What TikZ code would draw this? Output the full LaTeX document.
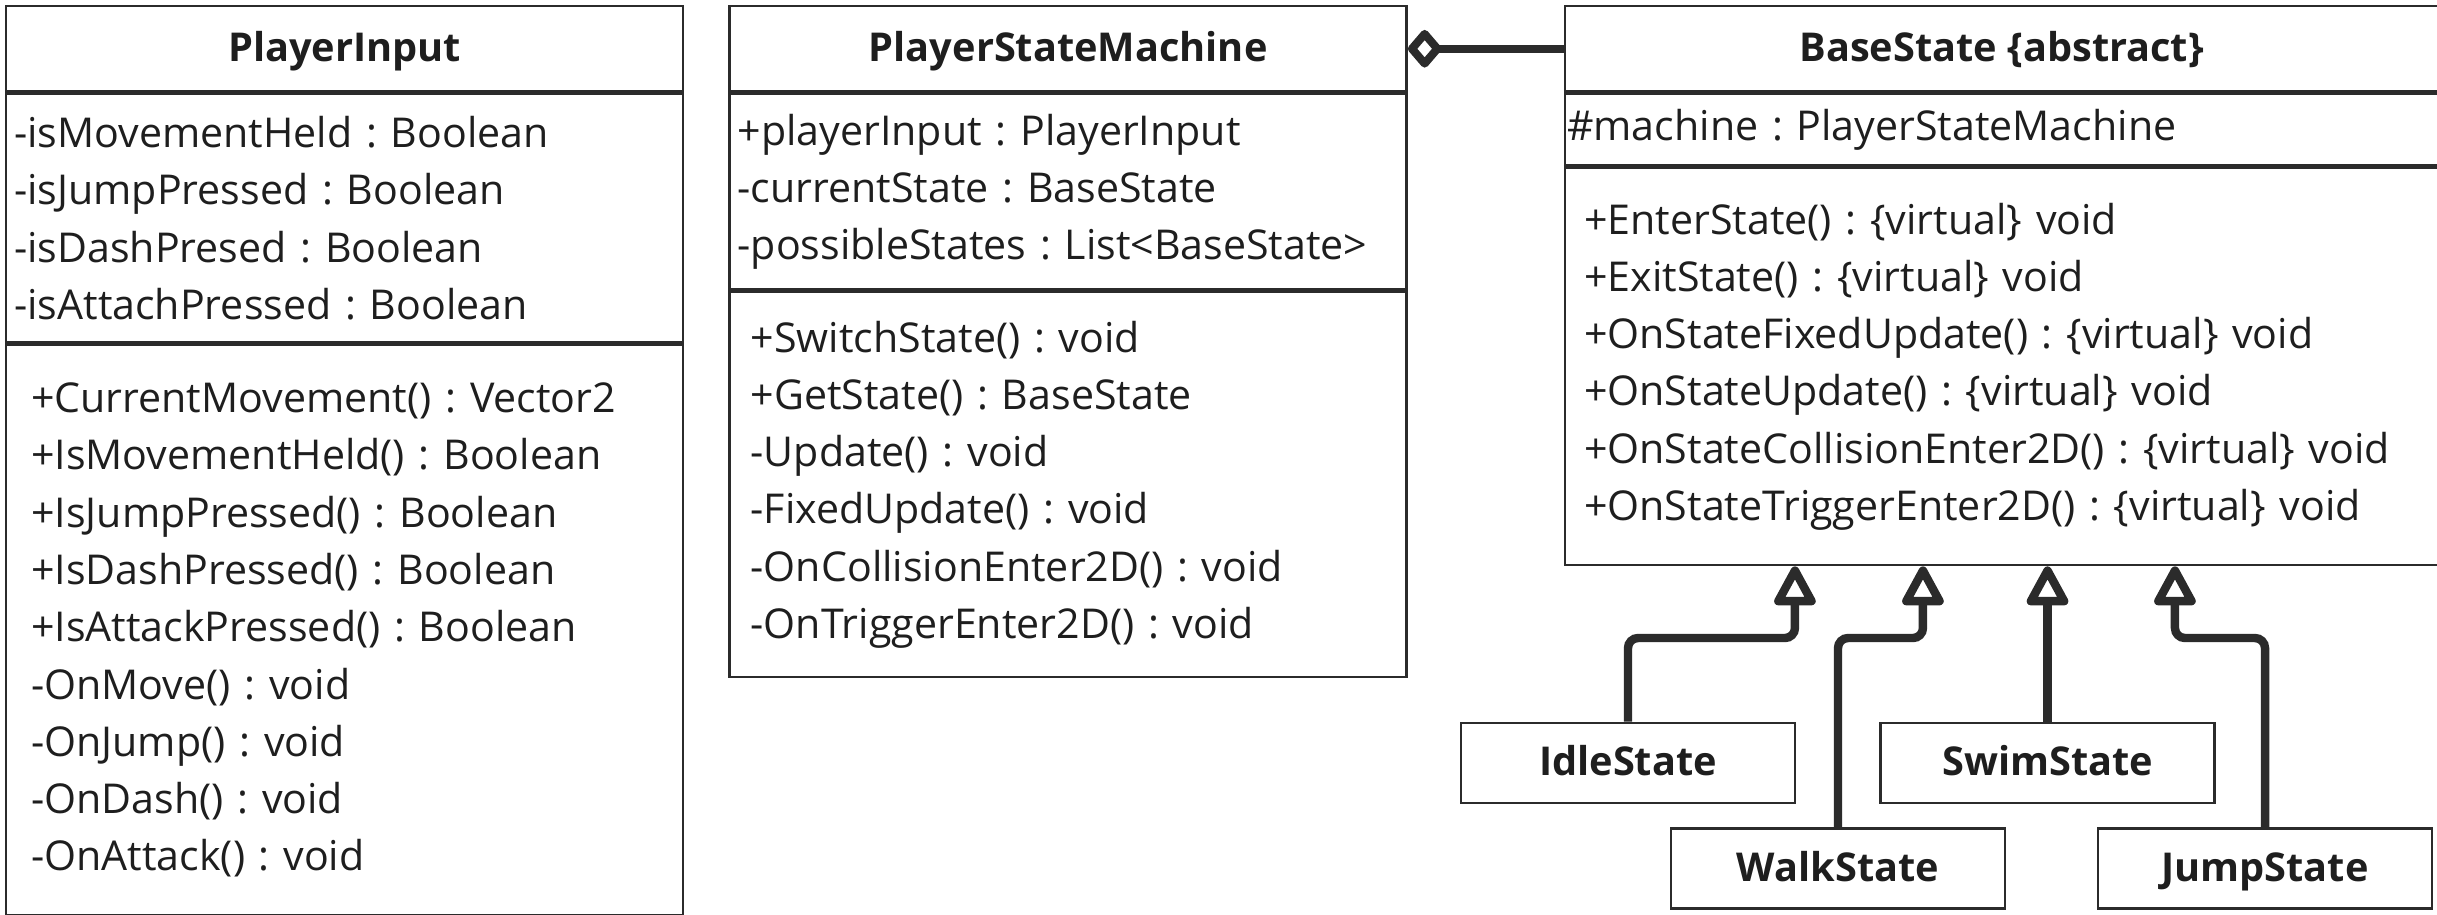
\documentclass[tikz,border=0pt]{standalone}
\usepackage{fontspec}
\setmainfont{Open Sans}
\frenchspacing
\usetikzlibrary{arrows.meta,positioning,calc}
\definecolor{umlline}{HTML}{2B2B2B}
\definecolor{umltext}{HTML}{1E1E1E}

\begin{document}
\begin{tikzpicture}[
  node distance=0pt,
  every node/.style={text=umltext},
  head/.style={draw=umlline, line width=0.7pt, minimum width=#1, minimum height=8.5mm, inner sep=0pt, text height=0.72em, text depth=0pt, font=\bfseries\fontsize{11.3}{13}\selectfont},
  members/.style={draw=umlline, line width=0.7pt, text width=#1, align=left, inner ysep=0pt, font=\fontsize{11.7}{16.3}\selectfont},
  sep/.style={draw=umlline, line width=1.3pt},
  sub/.style={draw=umlline, line width=0.8pt, minimum width=33.4mm, minimum height=8mm, inner sep=0pt, text height=0.72em, text depth=0pt, font=\bfseries\fontsize{11.3}{13}\selectfont},
  inherit/.style={-{Triangle[open, round, length=4.4mm, width=4.5mm]}, draw=umlline, line width=2.4pt},
  agg/.style={{Diamond[open, round, length=3.6mm, width=4.2mm]}-, draw=umlline, line width=2.3pt},
]
  \useasboundingbox (0,0) rectangle (24.37,-9.14);

  % PlayerInput
  \node[head=6.77cm, anchor=north west] (pihead) at (0.05,-0.05) {PlayerInput};
  \node[members=6.61cm, inner xsep=0.8mm, minimum height=24.9mm, below=of pihead] (piattr)
    {-isMovementHeld : Boolean\\-isJumpPressed : Boolean\\-isDashPresed : Boolean\\-isAttachPressed : Boolean};
  \node[members=6.27cm, inner xsep=2.5mm, minimum height=57mm, below=of piattr] (pimeth)
    {+CurrentMovement() : Vector2\\+IsMovementHeld() : Boolean\\+IsJumpPressed() : Boolean\\+IsDashPressed() : Boolean\\+IsAttackPressed() : Boolean\\-OnMove() : void\\-OnJump() : void\\-OnDash() : void\\-OnAttack() : void};

  % PlayerStateMachine
  \node[head=6.77cm, right=4.4mm of pihead] (psmhead) {PlayerStateMachine};
  \node[members=6.61cm, inner xsep=0.8mm, minimum height=19.6mm, below=of psmhead] (psmattr)
    {+playerInput : PlayerInput\\-currentState : BaseState\\-possibleStates : List<BaseState>};
  \node[members=6.35cm, inner xsep=2.1mm, minimum height=38.5mm, below=of psmattr] (psmmeth)
    {+SwitchState() : void\\+GetState() : BaseState\\-Update() : void\\-FixedUpdate() : void\\-OnCollisionEnter2D() : void\\-OnTriggerEnter2D() : void};

  % BaseState
  \node[head=8.73cm, right=15.6mm of psmhead] (bshead) {BaseState \{abstract\}};
  \node[members=8.69cm, inner xsep=0.2mm, minimum height=7.2mm, below=of bshead] (bsattr)
    {\#machine : PlayerStateMachine};
  \node[members=8.35cm, inner xsep=1.9mm, minimum height=39.7mm, below=of bsattr] (bsmeth)
    {+EnterState() : \{virtual\} void\\+ExitState() : \{virtual\} void\\+OnStateFixedUpdate() : \{virtual\} void\\+OnStateUpdate() : \{virtual\} void\\+OnStateCollisionEnter2D() : \{virtual\} void\\+OnStateTriggerEnter2D() : \{virtual\} void};

  \draw[sep] (pihead.south west) -- (pihead.south east);
  \draw[sep] (piattr.south west) -- (piattr.south east);
  \draw[sep] (psmhead.south west) -- (psmhead.south east);
  \draw[sep] (psmattr.south west) -- (psmattr.south east);
  \draw[sep] (bshead.south west) -- (bshead.south east);
  \draw[sep] (bsattr.south west) -- (bsattr.south east);

  % states
  \node[sub] (idle) at (16.28,-7.63) {IdleState};
  \node[sub] (swim) at (20.475,-7.63) {SwimState};
  \node[sub] (walk) at (18.38,-8.685) {WalkState};
  \node[sub] (jump) at (22.65,-8.685) {JumpState};

  \coordinate (tipidle) at ([xshift=23.1mm]bsmeth.south west);
  \coordinate (tipwalk) at ([xshift=35.9mm]bsmeth.south west);
  \coordinate (tipswim) at (swim.north |- bsmeth.south);
  \coordinate (tipjump) at ([xshift=61.1mm]bsmeth.south west);
  \coordinate (bend) at (0,-6.38);

  \draw[agg] (psmhead.east) -- (bshead.west);
  \draw[inherit] (idle.north) [rounded corners=1mm] |- (bend -| tipidle) -- ++(0,2mm) [sharp corners] -- (tipidle);
  \draw[inherit] (walk.north) [rounded corners=1mm] |- (bend -| tipwalk) -- ++(0,2mm) [sharp corners] -- (tipwalk);
  \draw[inherit] (swim.north) -- (tipswim);
  \draw[inherit] (jump.north) [rounded corners=1mm] |- (bend -| tipjump) -- ++(0,2mm) [sharp corners] -- (tipjump);
\end{tikzpicture}
\end{document}
